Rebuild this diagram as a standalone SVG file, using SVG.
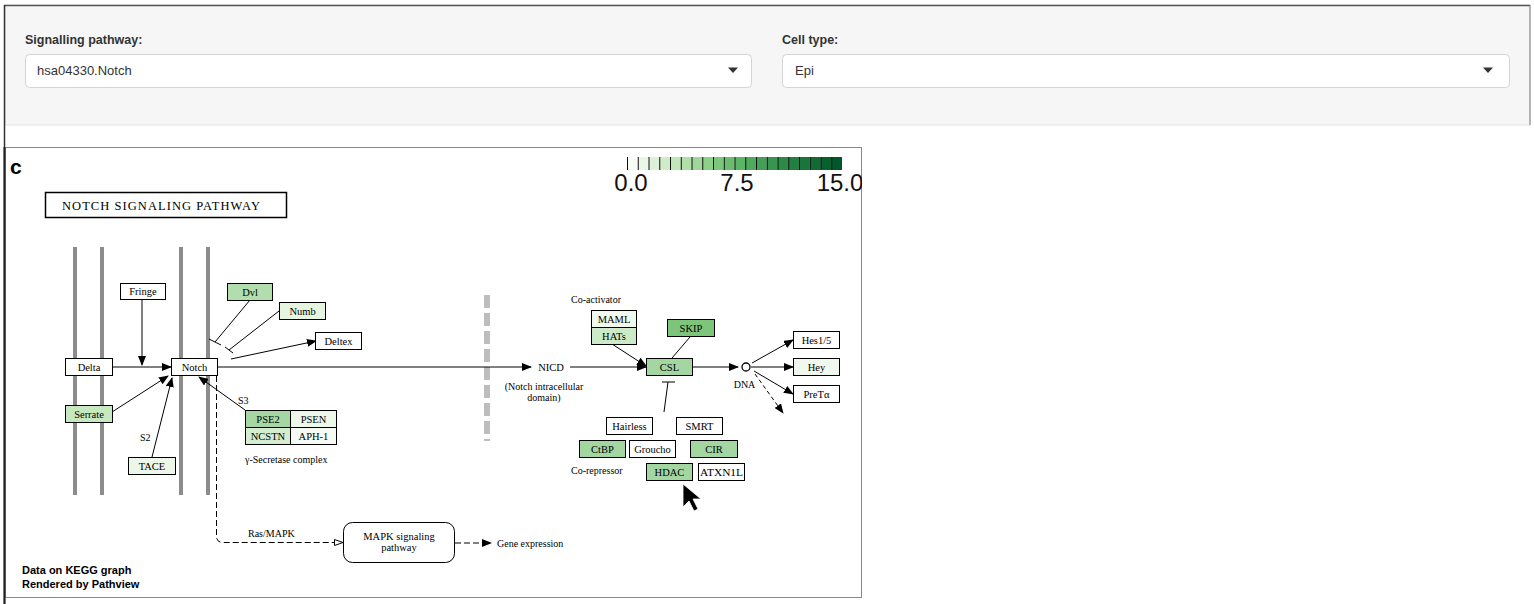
<svg xmlns="http://www.w3.org/2000/svg" width="1534" height="604" viewBox="0 0 1534 604">
<style>
.lbl{font-family:"Liberation Sans",Arial,sans-serif;font-size:12.5px;font-weight:bold;fill:#333}
.sel{fill:#fff;stroke:#d4d4d4;stroke-width:1}
.seltxt{font-family:"Liberation Sans",Arial,sans-serif;font-size:13px;fill:#333}
.node rect{stroke:#000;stroke-width:1}
.nt{font-family:"Liberation Serif","Times New Roman",serif;font-size:10.5px;fill:#000;text-anchor:middle}
.st{font-family:"Liberation Serif","Times New Roman",serif;font-size:10px;fill:#000}
.mem{stroke:#8c8c8c;stroke-width:4}
.ln{stroke:#000;stroke-width:1;fill:none}
.dash{stroke-dasharray:6,3}
.cb{font-family:"Liberation Sans",Arial,sans-serif;font-size:24px;fill:#111}
.foot{font-family:"Liberation Sans",Arial,sans-serif;font-size:11px;font-weight:bold;fill:#000}
</style>
<defs>
<marker id="ah" markerUnits="userSpaceOnUse" markerWidth="10" markerHeight="8" refX="9" refY="4" orient="auto"><path d="M0,0 L10,4 L0,8 Z" fill="#000"/></marker>
<marker id="ao" markerUnits="userSpaceOnUse" markerWidth="10" markerHeight="8" refX="9" refY="4" orient="auto"><path d="M0.5,1 L9,4 L0.5,7 Z" fill="#fff" stroke="#000" stroke-width="1"/></marker>
<clipPath id="imgclip"><rect x="5" y="147" width="857" height="451"/></clipPath>
</defs>
<rect x="0" y="0" width="1534" height="604" fill="#fff"/>
<g id="panel">
<rect x="5" y="5" width="1525" height="120" fill="#f5f6f5" stroke="#e3e3e3" stroke-width="1"/>
<line x1="4" y1="5.5" x2="1530" y2="5.5" stroke="#555" stroke-width="1.5"/>
<line x1="4.5" y1="5" x2="4.5" y2="604" stroke="#333" stroke-width="1.5"/>
<line x1="1530" y1="5" x2="1530" y2="125" stroke="#777" stroke-width="1"/>
</g>
<g id="select-pathway">
<text class="lbl" x="25" y="44">Signalling pathway:</text>
<rect class="sel" x="25.5" y="54.5" width="726" height="33" rx="4"/>
<text class="seltxt" x="37" y="75">hsa04330.Notch</text>
<path d="M728,67.5 L738,67.5 L733,73 Z" fill="#333"/>
</g>
<g id="select-celltype">
<text class="lbl" x="782" y="44">Cell type:</text>
<rect class="sel" x="782.5" y="54.5" width="727" height="33" rx="4"/>
<text class="seltxt" x="795" y="75">Epi</text>
<path d="M1483,67.5 L1493,67.5 L1488,73 Z" fill="#333"/>
</g>
<rect id="frame" x="5.5" y="147.5" width="856" height="450" fill="#fff" stroke="#888" stroke-width="1"/>
<line x1="4.5" y1="147" x2="4.5" y2="604" stroke="#222" stroke-width="2"/>
<text x="10" y="174" font-family="Liberation Sans,Arial,sans-serif" font-size="21" font-weight="bold">c</text>
<g id="colorbar" clip-path="url(#imgclip)">
<rect x="627" y="157" width="10.75" height="13" fill="#f7fcf5"/>
<rect x="637.75" y="157" width="10.75" height="13" fill="#eaf6e6"/>
<rect x="648.5" y="157" width="10.75" height="13" fill="#ddf1d8"/>
<rect x="659.25" y="157" width="10.75" height="13" fill="#cfebc9"/>
<rect x="670" y="157" width="10.75" height="13" fill="#c0e6ba"/>
<rect x="680.75" y="157" width="10.75" height="13" fill="#b0dfaa"/>
<rect x="691.5" y="157" width="10.75" height="13" fill="#9fd79a"/>
<rect x="702.25" y="157" width="10.75" height="13" fill="#8ecf8a"/>
<rect x="713" y="157" width="10.75" height="13" fill="#7cc67b"/>
<rect x="723.75" y="157" width="10.75" height="13" fill="#6bbd6e"/>
<rect x="734.5" y="157" width="10.75" height="13" fill="#5cb466"/>
<rect x="745.25" y="157" width="10.75" height="13" fill="#4eaa5e"/>
<rect x="756" y="157" width="10.75" height="13" fill="#42a057"/>
<rect x="766.75" y="157" width="10.75" height="13" fill="#379550"/>
<rect x="777.5" y="157" width="10.75" height="13" fill="#2c8a49"/>
<rect x="788.25" y="157" width="10.75" height="13" fill="#227f42"/>
<rect x="799" y="157" width="10.75" height="13" fill="#19753c"/>
<rect x="809.75" y="157" width="10.75" height="13" fill="#106b35"/>
<rect x="820.5" y="157" width="10.75" height="13" fill="#07612f"/>
<rect x="831.25" y="157" width="10.75" height="13" fill="#00582a"/>
<path stroke="#111" stroke-width="1" d="M627.5,157V170M638.25,157V170M649,157V170M659.75,157V170M670.5,157V170M681.25,157V170M692,157V170M702.75,157V170M713.5,157V170M724.25,157V170M735,157V170M745.75,157V170M756.5,157V170M767.25,157V170M778,157V170M788.75,157V170M799.5,157V170M810.25,157V170M821,157V170M831.75,157V170"/>
<text class="cb" x="631" y="191" text-anchor="middle">0.0</text>
<text class="cb" x="737" y="191" text-anchor="middle">7.5</text>
<text class="cb" x="840" y="191" text-anchor="middle">15.0</text>
</g>
<g id="title">
<rect x="45.5" y="192.5" width="241" height="25" fill="#fff" stroke="#000" stroke-width="1.5"/>
<text x="62" y="210" font-family="Liberation Serif,Times New Roman,serif" font-size="12.5" textLength="198" lengthAdjust="spacing">NOTCH SIGNALING PATHWAY</text>
</g>
<g id="membranes">
<line class="mem" x1="75" y1="247" x2="75" y2="495"/>
<line class="mem" x1="102" y1="247" x2="102" y2="495"/>
<line class="mem" x1="181" y1="247" x2="181" y2="495"/>
<line class="mem" x1="208" y1="247" x2="208" y2="495"/>
<line x1="487" y1="295" x2="487" y2="441" stroke="#bdbdbd" stroke-width="6" stroke-dasharray="13,5"/>
</g>
<g id="connectors">
<line class="ln" x1="142" y1="299" x2="142" y2="365" marker-end="url(#ah)"/>
<line class="ln" x1="112" y1="367" x2="171" y2="367" marker-end="url(#ah)"/>
<line class="ln" x1="112" y1="412" x2="168" y2="376" marker-end="url(#ah)"/>
<line class="ln" x1="152" y1="457" x2="172" y2="378" marker-end="url(#ah)"/>
<line class="ln" x1="245" y1="410" x2="199" y2="377" marker-end="url(#ah)"/>
<line class="ln" x1="250" y1="300" x2="215" y2="342"/>
<line class="ln" x1="209" y1="339" x2="221" y2="345"/>
<line class="ln" x1="279" y1="311" x2="229" y2="350"/>
<line class="ln" x1="225" y1="347" x2="233" y2="353"/>
<line class="ln" x1="231" y1="359" x2="316" y2="341" marker-end="url(#ah)"/>
<line class="ln" x1="218" y1="367" x2="531" y2="367" marker-end="url(#ah)"/>
<line class="ln" x1="570" y1="367" x2="646" y2="367" marker-end="url(#ah)"/>
<line class="ln" x1="612" y1="344" x2="646" y2="366" marker-end="url(#ah)"/>
<line class="ln" x1="690" y1="337" x2="672" y2="358"/>
<line class="ln" x1="693" y1="367" x2="738" y2="367" marker-end="url(#ah)"/>
<line class="ln" x1="752" y1="363" x2="793" y2="340" marker-end="url(#ah)"/>
<line class="ln" x1="751" y1="367" x2="793" y2="367" marker-end="url(#ah)"/>
<line class="ln" x1="754" y1="371" x2="793" y2="394" marker-end="url(#ah)"/>
<line class="ln" x1="755" y1="374" x2="783" y2="413" stroke-dasharray="4,3" marker-end="url(#ah)"/>
<line class="ln" x1="664" y1="412" x2="668" y2="382"/>
<line class="ln" x1="662" y1="382" x2="675" y2="382"/>
<path class="ln dash" d="M216.5,376 V536 Q216.5,542.5 223,542.5 H343" marker-end="url(#ao)"/>
<line class="ln" x1="455" y1="543" x2="491" y2="543" stroke-dasharray="6,3" marker-end="url(#ah)"/>
<text class="st" x="140" y="441">S2</text>
<text class="st" x="238" y="404">S3</text>
<text class="st" x="248" y="537">Ras/MAPK</text>
</g>
<g id="node-fringe" class="node"><rect x="120.5" y="283.5" width="45" height="16" fill="#fff"/><text class="nt" x="143" y="295">Fringe</text></g>
<g id="node-delta" class="node"><rect x="65.5" y="358.5" width="47" height="17" fill="#fff"/><text class="nt" x="89" y="371">Delta</text></g>
<g id="node-notch" class="node"><rect x="171.5" y="358.5" width="46" height="17" fill="#fff"/><text class="nt" x="194.5" y="371">Notch</text></g>
<g id="node-serrate" class="node"><rect x="65.5" y="405.5" width="47" height="17" fill="#c7e9c0"/><text class="nt" x="89" y="418">Serrate</text></g>
<g id="node-tace" class="node"><rect x="128.5" y="457.5" width="47" height="17" fill="#ecf7e9"/><text class="nt" x="152" y="470">TACE</text></g>
<g id="node-dvl" class="node"><rect x="227.5" y="283.5" width="45" height="17" fill="#b2deae"/><text class="nt" x="250" y="296">Dvl</text></g>
<g id="node-numb" class="node"><rect x="279.5" y="302.5" width="46" height="17" fill="#e5f5e0"/><text class="nt" x="302.5" y="315">Numb</text></g>
<g id="node-deltex" class="node"><rect x="315.5" y="332.5" width="46" height="17" fill="#fff"/><text class="nt" x="338.5" y="345">Deltex</text></g>
<g id="node-gsecretase" class="node">
<rect x="245.5" y="410.5" width="45" height="17" fill="#a6d7a2"/><text class="nt" x="268" y="423">PSE2</text>
<rect x="290.5" y="410.5" width="46" height="17" fill="#edf8ea"/><text class="nt" x="313.5" y="423">PSEN</text>
<rect x="245.5" y="427.5" width="45" height="17" fill="#d3edce"/><text class="nt" x="268" y="440">NCSTN</text>
<rect x="290.5" y="427.5" width="46" height="17" fill="#f5fbf4"/><text class="nt" x="313.5" y="440">APH-1</text>
<text class="st" x="245" y="463">γ-Secretase complex</text>
</g>
<g id="node-mapk"><rect x="343.5" y="522.5" width="111" height="40" rx="9" fill="#fff" stroke="#000" stroke-width="1"/><text class="nt" x="399" y="540">MAPK signaling</text><text class="nt" x="399" y="551">pathway</text></g>
<g id="node-gene"><text class="st" x="497" y="547">Gene expression</text></g>
<g id="node-nicd"><text class="nt" x="551" y="371">NICD</text><text class="st" x="544" y="390" text-anchor="middle">(Notch intracellular</text><text class="st" x="544" y="401" text-anchor="middle">domain)</text></g>
<g id="node-coact" class="node">
<text class="st" x="571" y="303">Co-activator</text>
<rect x="591.5" y="310.5" width="45" height="17" fill="#f0f9ee"/><text class="nt" x="614" y="323">MAML</text>
<rect x="591.5" y="327.5" width="45" height="17" fill="#cdeac8"/><text class="nt" x="614" y="340">HATs</text>
</g>
<g id="node-skip" class="node"><rect x="667.5" y="319.5" width="47" height="17" fill="#7cc57a"/><text class="nt" x="691" y="332">SKIP</text></g>
<g id="node-csl" class="node"><rect x="646.5" y="358.5" width="46" height="17" fill="#a3d6a0"/><text class="nt" x="669.5" y="371">CSL</text></g>
<g id="node-dna"><circle cx="746" cy="367" r="4" fill="#fff" stroke="#000" stroke-width="1.3"/><text class="st" x="744.5" y="388" text-anchor="middle">DNA</text></g>
<g id="node-hes" class="node"><rect x="793.5" y="331.5" width="46" height="17" fill="#fff"/><text class="nt" x="816.5" y="344">Hes1/5</text></g>
<g id="node-hey" class="node"><rect x="793.5" y="358.5" width="46" height="17" fill="#f0f9ee"/><text class="nt" x="816.5" y="371">Hey</text></g>
<g id="node-pret" class="node"><rect x="793.5" y="385.5" width="46" height="17" fill="#fff"/><text class="nt" x="816.5" y="398">PreTα</text></g>
<g id="node-corep" class="node">
<rect x="606.5" y="417.5" width="46" height="17" fill="#fff"/><text class="nt" x="629.5" y="430">Hairless</text>
<rect x="676.5" y="417.5" width="46" height="17" fill="#fff"/><text class="nt" x="699.5" y="430">SMRT</text>
<rect x="579.5" y="440.5" width="46" height="17" fill="#a3d6a0"/><text class="nt" x="602.5" y="453">CtBP</text>
<rect x="629.5" y="440.5" width="46" height="17" fill="#fff"/><text class="nt" x="652.5" y="453">Groucho</text>
<rect x="690.5" y="440.5" width="47" height="17" fill="#a3d6a0"/><text class="nt" x="714" y="453">CIR</text>
<text class="st" x="571" y="474">Co-repressor</text>
<rect x="646.5" y="463.5" width="46" height="17" fill="#a3d6a0"/><text class="nt" x="669.5" y="476">HDAC</text>
<rect x="698.5" y="463.5" width="46" height="17" fill="#fff"/><text class="nt" x="721.5" y="476" textLength="43" lengthAdjust="spacingAndGlyphs">ATXN1L</text>
</g>
<path d="M683,484 L683,507 L689,501 L694,511 L698,509 L693,499 L701,499 Z" fill="#000" stroke="#fff" stroke-width="0.8"/>
<g id="footer">
<text class="foot" x="22" y="574">Data on KEGG graph</text>
<text class="foot" x="22" y="588">Rendered by Pathview</text>
</g>
</svg>
